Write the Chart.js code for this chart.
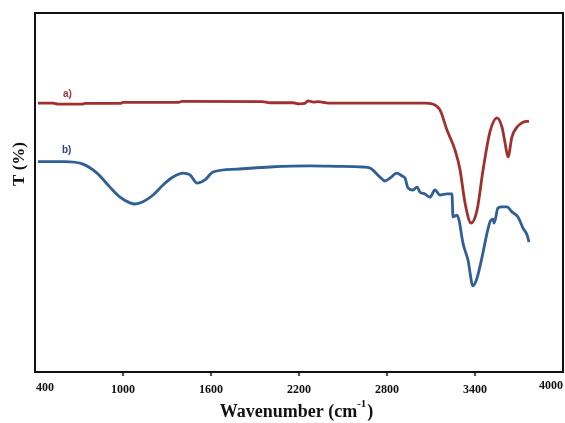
<!DOCTYPE html>
<html lang="en">
<head>
    <meta charset="UTF-8">
    <title>FTIR spectra</title>
    <script src="https://cdn.jsdelivr.net/npm/chart.js"></script>
    <style>
        body { margin: 0; background: #fff; }
        .chart-container { width: 565px; height: 423px; }
    </style>
</head>
<body>
    <div class="chart-container"><canvas id="chart1"></canvas></div>

    <script>
        // wavenumber (cm-1) / transmittance (arbitrary %)
        const waveA = [420, 520, 560, 720, 740, 980, 1000, 1380, 1400, 1950, 2000, 2160, 2200, 2240, 2260, 2300, 2330, 2400, 2600, 2900, 3060, 3107, 3161, 3209, 3264, 3298, 3332, 3373, 3414, 3455, 3502, 3550, 3584, 3605, 3625, 3652, 3686, 3727, 3768];
        const transA = [74.9, 74.9, 74.6, 74.6, 74.8, 74.8, 75.1, 75.1, 75.4, 75.3, 75.0, 75.0, 74.7, 74.8, 75.5, 75.2, 75.3, 74.9, 74.9, 74.9, 74.9, 74.7, 73.0, 67.4, 61.8, 56.3, 47.1, 41.5, 45.1, 56.3, 66.9, 70.8, 68.2, 63.8, 59.9, 65.5, 68.2, 69.6, 69.9];

        const waveB = [420, 600, 727, 823, 911, 980, 1048, 1082, 1136, 1205, 1273, 1341, 1409, 1457, 1505, 1559, 1614, 1777, 2002, 2275, 2450, 2636, 2684, 2752, 2786, 2820, 2868, 2902, 2923, 2943, 2977, 3005, 3025, 3059, 3093, 3127, 3161, 3209, 3243, 3250, 3277, 3291, 3318, 3352, 3386, 3414, 3448, 3482, 3502, 3523, 3530, 3557, 3584, 3618, 3652, 3693, 3727, 3755, 3768];
        const transB = [58.6, 58.6, 57.9, 55.4, 51.5, 48.7, 47.1, 46.8, 47.4, 49.3, 52.1, 54.3, 55.4, 54.9, 52.6, 53.5, 55.7, 56.5, 57.1, 57.4, 57.3, 57.1, 56.8, 54.3, 53.2, 54.0, 55.4, 54.6, 54.0, 51.3, 50.7, 51.5, 50.1, 49.6, 48.7, 50.7, 49.3, 49.6, 49.6, 43.2, 43.7, 42.3, 35.9, 31.2, 24.0, 26.2, 32.0, 38.7, 41.8, 42.6, 41.5, 45.7, 46.0, 46.0, 44.6, 43.2, 40.1, 38.2, 36.2];

        const xTicks = [400, 1000, 1600, 2200, 2800, 3400, 4000];
        const seriesLabels = ['a)', 'b)'];

        const toPoints = (xs, ys) => xs.map((x, i) => ({ x: x, y: ys[i] }));

        const serif = '"Liberation Serif", "Times New Roman", serif';

        // frame, ticks, tick labels, axis titles and series tags
        const decorations = {
            id: 'decorations',
            afterDatasetsDraw(chart) {
                const ctx = chart.ctx;
                const a = chart.chartArea;
                const xs = chart.scales.x;
                ctx.save();

                ctx.strokeStyle = '#111';
                ctx.lineWidth = 2;
                ctx.strokeRect(a.left, a.top, a.right - a.left, a.bottom - a.top);

                ctx.lineWidth = 1.5;
                ctx.fillStyle = '#111';
                ctx.font = 'bold 12px ' + serif;
                ctx.textBaseline = 'top';
                xTicks.forEach((t, i) => {
                    const px = xs.getPixelForValue(t);
                    const last = i === xTicks.length - 1;
                    if (i > 0 && !last) {
                        ctx.beginPath();
                        ctx.moveTo(px, a.bottom);
                        ctx.lineTo(px, a.bottom + 4);
                        ctx.stroke();
                    }
                    if (i === 0) {
                        ctx.textAlign = 'left';
                        ctx.fillText(String(t), px + 1, a.bottom + 10);
                    } else if (last) {
                        ctx.textAlign = 'left';
                        ctx.fillText(String(t), px - 24, a.bottom + 8);
                    } else {
                        ctx.textAlign = 'center';
                        ctx.fillText(String(t), px, a.bottom + 12);
                    }
                });

                // x title with superscript
                ctx.textBaseline = 'alphabetic';
                ctx.textAlign = 'left';
                const p1 = 'Wavenumber (cm', sup = '-1', p2 = ')';
                ctx.font = 'bold 18px ' + serif;
                const w1 = ctx.measureText(p1).width;
                const w2 = ctx.measureText(p2).width;
                ctx.font = 'bold 11px ' + serif;
                const ws = ctx.measureText(sup).width;
                const tx = 296 - (w1 + ws + w2) / 2;
                const ty = 417;
                ctx.font = 'bold 18px ' + serif;
                ctx.fillText(p1, tx, ty);
                ctx.fillText(p2, tx + w1 + ws + 1, ty);
                ctx.font = 'bold 11px ' + serif;
                ctx.fillText(sup, tx + w1, ty - 10);

                // y title
                ctx.save();
                ctx.translate(20, 164);
                ctx.rotate(-Math.PI / 2);
                ctx.textAlign = 'center';
                ctx.textBaseline = 'middle';
                ctx.font = 'bold 17px ' + serif;
                ctx.fillText('T (%)', 0, 0);
                ctx.restore();

                // series tags
                ctx.font = 'bold 10px "Liberation Sans", Arial, sans-serif';
                ctx.textAlign = 'left';
                ctx.textBaseline = 'alphabetic';
                ctx.fillStyle = '#a3333a';
                ctx.fillText(seriesLabels[0], 63, 97);
                ctx.fillStyle = '#2d3f82';
                ctx.fillText(seriesLabels[1], 62, 153);

                ctx.restore();
            }
        };

        new Chart(document.getElementById('chart1').getContext('2d'), {
            type: 'line',
            data: {
                datasets: [{
                    label: seriesLabels[0],
                    data: toPoints(waveA, transA),
                    borderColor: '#a0302f',
                    borderWidth: 2.8,
                    pointRadius: 0,
                    cubicInterpolationMode: 'monotone',
                    fill: false
                }, {
                    label: seriesLabels[1],
                    data: toPoints(waveB, transB),
                    borderColor: '#2f5f95',
                    borderWidth: 2.8,
                    pointRadius: 0,
                    cubicInterpolationMode: 'monotone',
                    fill: false
                }]
            },
            options: {
                responsive: true,
                maintainAspectRatio: false,
                animation: false,
                layout: { padding: { left: 35, right: 2, top: 13, bottom: 51 } },
                plugins: { legend: { display: false }, tooltip: { enabled: false } },
                scales: {
                    x: { type: 'linear', min: 400, max: 4000, display: false },
                    y: { min: 0, max: 100, display: false }
                }
            },
            plugins: [decorations]
        });
    </script>
</body>
</html>
